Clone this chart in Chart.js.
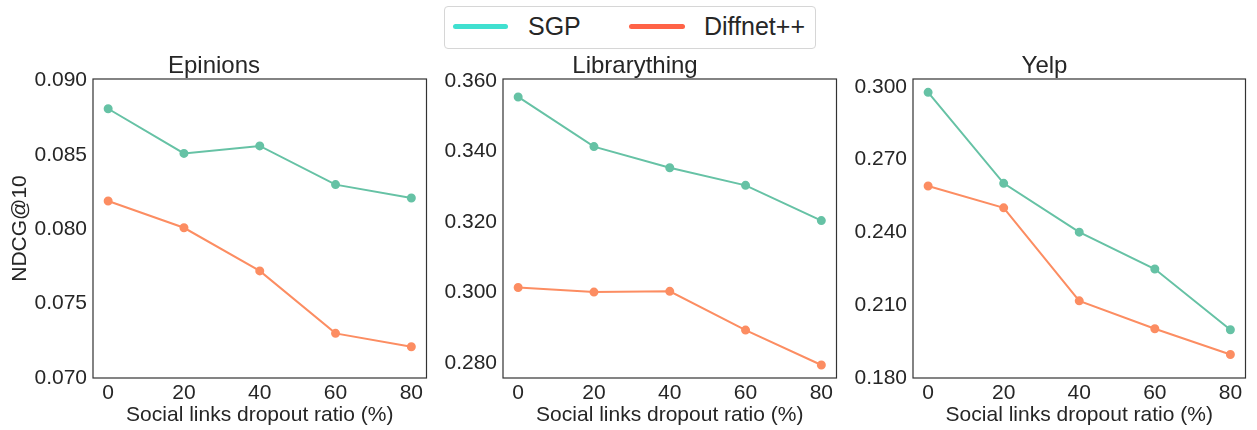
<!DOCTYPE html>
<html>
<head>
<meta charset="utf-8">
<script src="https://cdn.jsdelivr.net/npm/chart.js@4.4.0/dist/chart.umd.min.js"></script>
<style>
  body { margin: 0; background: #fff; width: 1257px; height: 430px; position: relative; overflow: hidden;
         font-family: "Liberation Sans", Arial, sans-serif; color: #262626; }
  .panel { position: absolute; top: 50px; height: 380px; }
  #legend { position: absolute; left: 444px; top: 6px; width: 370px; height: 41px;
            border: 1px solid #d6d6d6; border-radius: 4px; }
  .swatch { position: absolute; top: 17px; height: 5px; border-radius: 3px; }
  .lbl { position: absolute; top: 7px; font-size: 25px; line-height: 25px; }
</style>
</head>
<body>
<div id="legend">
  <span class="swatch" style="left:8px;width:55px;background:#40e0d0"></span>
  <span class="lbl" style="left:83px">SGP</span>
  <span class="swatch" style="left:184px;width:56px;background:#ff6347"></span>
  <span class="lbl" style="left:259px">Diffnet++</span>
</div>
<div class="panel" style="left:0px;width:432px"><canvas id="epinions" width="432" height="380"></canvas></div>
<div class="panel" style="left:432px;width:410px"><canvas id="library" width="410" height="380"></canvas></div>
<div class="panel" style="left:842px;width:409px"><canvas id="yelp" width="409" height="380"></canvas></div>
<script>
// data
var ratios = [0, 20, 40, 60, 80];

var epinionsSGP = [0.0881, 0.0851, 0.0856, 0.0830, 0.0821];
var epinionsDiff = [0.0819, 0.0801, 0.0772, 0.0730, 0.0721];
var epinionsTicks = [0.070, 0.075, 0.080, 0.085, 0.090];

var libSGP = [0.3555, 0.3414, 0.3354, 0.3304, 0.3204];
var libDiff = [0.3014, 0.3001, 0.3003, 0.2893, 0.2794];
var libTicks = [0.280, 0.300, 0.320, 0.340, 0.360];

var yelpSGP = [0.2977, 0.2602, 0.2401, 0.2249, 0.1999];
var yelpDiff = [0.2591, 0.2501, 0.2118, 0.2003, 0.1897];
var yelpTicks = [0.180, 0.210, 0.240, 0.270, 0.300];

var textColor = '#262626';
var fontFamily = '"Liberation Sans", Arial, sans-serif';

// frame around the plot area (matplotlib style box)
var frame = {
    id: 'frame',
    afterDraw: function(chart) {
        var a = chart.chartArea, ctx = chart.ctx;
        ctx.save();
        ctx.strokeStyle = '#333333';
        ctx.lineWidth = 1.2;
        ctx.strokeRect(a.left, a.top, a.right - a.left, a.bottom - a.top);
        ctx.restore();
    }
};

function pts(ys) {
    return ratios.map(function(x, i) { return {x: x, y: ys[i]}; });
}

function series(label, ys, color) {
    return {
        label: label,
        data: pts(ys),
        borderColor: color,
        backgroundColor: color,
        borderWidth: 2,
        pointRadius: 3.5,
        pointHoverRadius: 3.5,
        tension: 0
    };
}

function makePanel(id, title, sgp, diff, ticks, yMin, yMax, yLabel, yWidth) {
    var ctx = document.getElementById(id).getContext('2d');
    return new Chart(ctx, {
        type: 'line',
        data: {
            datasets: [
                series('SGP', sgp, '#66c2a5'),
                series('Diffnet++', diff, '#fc8d62')
            ]
        },
        options: {
            responsive: false,
            animation: false,
            layout: { padding: { left: 0, right: 4, top: 0, bottom: 0 } },
            plugins: {
                legend: { display: false },
                tooltip: { enabled: false },
                title: {
                    display: true,
                    text: title,
                    color: textColor,
                    font: { family: fontFamily, size: 24, weight: 'normal', lineHeight: 1.0 },
                    padding: { top: 4, bottom: 1 }
                }
            },
            scales: {
                x: {
                    type: 'linear',
                    min: -4,
                    max: 84,
                    grid: { display: false, drawTicks: false },
                    border: { display: false },
                    afterBuildTicks: function(s) { s.ticks = ratios.map(function(v) { return {value: v}; }); },
                    afterFit: function(s) { s.height = 52; },
                    ticks: {
                        color: textColor,
                        padding: 3,
                        maxRotation: 0,
                        font: { family: fontFamily, size: 21 }
                    },
                    title: {
                        display: true,
                        text: 'Social links dropout ratio (%)',
                        color: textColor,
                        font: { family: fontFamily, size: 21 },
                        padding: { top: 0, bottom: 2 }
                    }
                },
                y: {
                    min: yMin,
                    max: yMax,
                    grid: { display: false, drawTicks: false },
                    border: { display: false },
                    afterBuildTicks: function(s) { s.ticks = ticks.map(function(v) { return {value: v}; }); },
                    afterFit: function(s) { s.width = yWidth; },
                    ticks: {
                        color: textColor,
                        padding: 6,
                        font: { family: fontFamily, size: 21 },
                        callback: function(v) { return v.toFixed(3); }
                    },
                    title: {
                        display: yLabel !== '',
                        text: yLabel,
                        color: textColor,
                        font: { family: fontFamily, size: 21 },
                        padding: { top: 8, bottom: 0 }
                    }
                }
            }
        },
        plugins: [frame]
    });
}

makePanel('epinions', 'Epinions', epinionsSGP, epinionsDiff, epinionsTicks, 0.070, 0.0901, 'NDCG@10', 93);
makePanel('library', 'Librarything', libSGP, libDiff, libTicks, 0.2757, 0.3606, '', 71);
makePanel('yelp', 'Yelp', yelpSGP, yelpDiff, yelpTicks, 0.180, 0.3032, '', 71);
</script>
</body>
</html>
